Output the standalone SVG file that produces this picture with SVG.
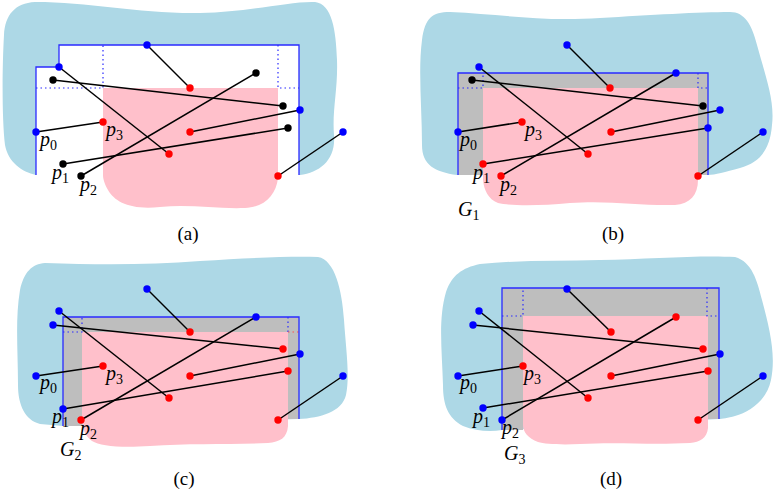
<svg xmlns="http://www.w3.org/2000/svg" width="777" height="491" viewBox="0 0 777 491">
<style>
.blob{fill:#add8e6;stroke:none}
.hole{fill:#ffffff;stroke:none}
.gray{fill:#bebebe;stroke:none}
.pink{fill:#ffc0cb;stroke:none}
.bnd{fill:none;stroke:#2a2aff;stroke-width:1.3}
.dot{fill:none;stroke:#2a2aff;stroke-width:1.2;stroke-dasharray:1.5 3}
.rdot{fill:none;stroke:#ff5050;stroke-width:1.2;stroke-dasharray:1.5 3}
.seg{stroke:#000;stroke-width:1.5;fill:none}
.B{fill:#0000ff}.R{fill:#ff0000}.K{fill:#000}
.lab{font-family:"Liberation Serif","DejaVu Serif",serif;font-style:italic;font-size:20px;fill:#000}
.sub{font-size:14px;font-style:normal}
.cap{font-family:"Liberation Serif","DejaVu Serif",serif;font-size:19px;fill:#000;text-anchor:middle}
</style>

<!-- Panel (a) -->
<g id="panel-a">
<path class="blob" d="M36,175 C22,172 8,162 5,145 C2,120 2,70 4,35 C5,15 15,3 35,2 C90,2 140,14 200,13 C250,12 290,1 315,2 C332,4 336,30 337,60 C338,90 332,110 334,135 C336,160 320,172 300,175 Z"/>
<polygon class="hole" points="36,175 36,67 59,67 59,45 299,45 299,175"/>
<path class="pink" d="M103,88 L278,88 L278,178 C276,195 265,207 245,208 C215,209 190,204 160,207 C130,210 115,202 108,190 C104,183 103,178 103,175 Z"/>
<path class="dot" d="M36,88 H103 V45 M278,45 V88 H299"/>
<polyline class="bnd" points="36,175 36,67 59,67 59,45 299,45 299,175"/>
</g>

<!-- Panel (b) -->
<g id="panel-b">
<path class="blob" d="M457,175 C435,172 422,165 422,145 C422,110 418,70 422,40 C425,18 432,12 450,12 C500,14 540,22 600,18 C650,15 700,12 730,12 C745,12 752,25 757,45 C765,75 775,100 772,125 C770,150 760,162 740,168 C725,172 715,175 708,175 Z"/>
<rect class="gray" x="458" y="73" width="250" height="102"/>
<path class="pink" d="M483,88 L698,88 L698,180 C698,195 690,204 675,205 C640,206 610,200 570,203 C540,206 510,206 498,203 C488,199 484,190 483,180 Z"/>
<path class="dot" d="M458,88 H483 V73 M698,73 V88 H708"/>
<polyline class="bnd" points="458,175 458,73 708,73 708,175"/>
</g>

<!-- Panel (c) -->
<g id="panel-c">
<path class="blob" d="M63,426 L40,424 C25,420 18,405 18,385 C18,350 15,320 20,290 C24,272 32,264 45,263 C100,265 150,265 200,261 C250,258 290,256 318,257 C335,260 342,290 344,320 C346,350 350,375 346,395 C342,412 320,418 299,419 Z"/>
<polygon class="gray" points="63,317 299,317 299,419 82,419 82,426 63,426"/>
<path class="pink" d="M82,332 L288,332 L288,426 C287,438 280,442 268,443 C230,445 190,443 150,446 C120,448 100,446 92,441 C85,436 82,428 82,418 Z"/>
<path class="dot" d="M63,332 H82 V317 M288,317 V332"/>
<path class="rdot" d="M288,332 H299"/>
<polyline class="bnd" points="63,426 63,317 299,317 299,419"/>
</g>

<!-- Panel (d) -->
<g id="panel-d">
<path class="blob" d="M502,430 C490,432 475,431 463,426 C448,418 443,405 443,385 C442,350 438,320 446,292 C452,275 462,268 480,264 C520,260 560,261 600,260 C650,259 700,255 735,257 C752,262 757,280 762,300 C770,330 776,355 771,380 C767,400 750,412 735,416 C728,418 722,419 719,419 Z"/>
<polygon class="gray" points="502,288 719,288 719,419 523,419 523,430 502,430"/>
<path class="pink" d="M523,316 L708,316 L708,428 C707,438 700,442 690,443 C650,445 620,442 580,444 C560,445 545,444 538,442 C528,438 523,432 523,425 Z"/>
<path class="dot" d="M502,316 H523 V288 M707,288 V316 H719"/>
<polyline class="bnd" points="502,430 502,288 719,288 719,419"/>
</g>

<g id="connectors">
<!-- a -->
<line class="seg" x1="147" y1="45" x2="190" y2="88"/>
<line class="seg" x1="59" y1="67" x2="169" y2="154"/>
<line class="seg" x1="53" y1="80" x2="283" y2="106"/>
<line class="seg" x1="256" y1="73" x2="81" y2="176"/>
<line class="seg" x1="300" y1="110" x2="190" y2="132"/>
<line class="seg" x1="288" y1="128" x2="63" y2="164"/>
<line class="seg" x1="36" y1="132" x2="103" y2="122"/>
<line class="seg" x1="343" y1="132" x2="278" y2="176"/>
<!-- b -->
<line class="seg" x1="567" y1="45" x2="610" y2="88"/>
<line class="seg" x1="479" y1="67" x2="588" y2="154"/>
<line class="seg" x1="472" y1="80" x2="703" y2="106"/>
<line class="seg" x1="676" y1="73" x2="501" y2="176"/>
<line class="seg" x1="720" y1="110" x2="611" y2="132"/>
<line class="seg" x1="708" y1="128" x2="483" y2="164"/>
<line class="seg" x1="458" y1="132" x2="522" y2="122"/>
<line class="seg" x1="763" y1="132" x2="698" y2="176"/>
<!-- c -->
<line class="seg" x1="147" y1="289" x2="190" y2="332"/>
<line class="seg" x1="59" y1="311" x2="169" y2="398"/>
<line class="seg" x1="53" y1="325" x2="283" y2="349"/>
<line class="seg" x1="256" y1="317" x2="81" y2="420"/>
<line class="seg" x1="300" y1="354" x2="190" y2="376"/>
<line class="seg" x1="288" y1="371" x2="63" y2="409"/>
<line class="seg" x1="36" y1="376" x2="103" y2="366"/>
<line class="seg" x1="343" y1="376" x2="278" y2="420"/>
<!-- d -->
<line class="seg" x1="567" y1="289" x2="611" y2="332"/>
<line class="seg" x1="479" y1="311" x2="588" y2="398"/>
<line class="seg" x1="473" y1="325" x2="703" y2="349"/>
<line class="seg" x1="676" y1="317" x2="502" y2="420"/>
<line class="seg" x1="720" y1="354" x2="611" y2="376"/>
<line class="seg" x1="708" y1="371" x2="483" y2="408"/>
<line class="seg" x1="458" y1="376" x2="523" y2="366"/>
<line class="seg" x1="763" y1="376" x2="698" y2="420"/>
</g>

<g id="points">
<!-- a -->
<circle class="B" cx="147" cy="45" r="3.7"/><circle class="R" cx="190" cy="88" r="3.7"/>
<circle class="B" cx="59" cy="67" r="3.7"/><circle class="R" cx="169" cy="154" r="3.7"/>
<circle class="K" cx="53" cy="80" r="3.7"/><circle class="K" cx="283" cy="106" r="3.7"/>
<circle class="K" cx="256" cy="73" r="3.7"/><circle class="K" cx="81" cy="176" r="3.7"/>
<circle class="B" cx="300" cy="110" r="3.7"/><circle class="R" cx="190" cy="132" r="3.7"/>
<circle class="K" cx="288" cy="128" r="3.7"/><circle class="K" cx="63" cy="164" r="3.7"/>
<circle class="B" cx="36" cy="132" r="3.7"/><circle class="R" cx="103" cy="122" r="3.7"/>
<circle class="B" cx="343" cy="132" r="3.7"/><circle class="R" cx="278" cy="176" r="3.7"/>
<!-- b -->
<circle class="B" cx="567" cy="45" r="3.7"/><circle class="R" cx="610" cy="88" r="3.7"/>
<circle class="B" cx="479" cy="67" r="3.7"/><circle class="R" cx="588" cy="154" r="3.7"/>
<circle class="K" cx="472" cy="80" r="3.7"/><circle class="K" cx="703" cy="106" r="3.7"/>
<circle class="B" cx="676" cy="73" r="3.7"/><circle class="R" cx="501" cy="176" r="3.7"/>
<circle class="B" cx="720" cy="110" r="3.7"/><circle class="R" cx="611" cy="132" r="3.7"/>
<circle class="B" cx="708" cy="128" r="3.7"/><circle class="R" cx="483" cy="164" r="3.7"/>
<circle class="B" cx="458" cy="132" r="3.7"/><circle class="R" cx="522" cy="122" r="3.7"/>
<circle class="B" cx="763" cy="132" r="3.7"/><circle class="R" cx="698" cy="176" r="3.7"/>
<!-- c -->
<circle class="B" cx="147" cy="289" r="3.7"/><circle class="R" cx="190" cy="332" r="3.7"/>
<circle class="B" cx="59" cy="311" r="3.7"/><circle class="R" cx="169" cy="398" r="3.7"/>
<circle class="B" cx="53" cy="325" r="3.7"/><circle class="R" cx="283" cy="349" r="3.7"/>
<circle class="B" cx="256" cy="317" r="3.7"/><circle class="R" cx="81" cy="420" r="3.7"/>
<circle class="B" cx="300" cy="354" r="3.7"/><circle class="R" cx="190" cy="376" r="3.7"/>
<circle class="R" cx="288" cy="371" r="3.7"/><circle class="B" cx="63" cy="409" r="3.7"/>
<circle class="B" cx="36" cy="376" r="3.7"/><circle class="R" cx="103" cy="366" r="3.7"/>
<circle class="B" cx="343" cy="376" r="3.7"/><circle class="R" cx="278" cy="420" r="3.7"/>
<!-- d -->
<circle class="B" cx="567" cy="289" r="3.7"/><circle class="R" cx="611" cy="332" r="3.7"/>
<circle class="B" cx="479" cy="311" r="3.7"/><circle class="R" cx="588" cy="398" r="3.7"/>
<circle class="B" cx="473" cy="325" r="3.7"/><circle class="R" cx="703" cy="349" r="3.7"/>
<circle class="R" cx="676" cy="317" r="3.7"/><circle class="B" cx="502" cy="420" r="3.7"/>
<circle class="B" cx="720" cy="354" r="3.7"/><circle class="R" cx="611" cy="376" r="3.7"/>
<circle class="R" cx="708" cy="371" r="3.7"/><circle class="B" cx="483" cy="408" r="3.7"/>
<circle class="B" cx="458" cy="376" r="3.7"/><circle class="R" cx="523" cy="366" r="3.7"/>
<circle class="B" cx="763" cy="376" r="3.7"/><circle class="R" cx="698" cy="420" r="3.7"/>
</g>

<g id="labels">
<text class="lab" x="40" y="146">p<tspan class="sub" dy="4">0</tspan></text>
<text class="lab" x="106" y="136">p<tspan class="sub" dy="4">3</tspan></text>
<text class="lab" x="52" y="179">p<tspan class="sub" dy="4">1</tspan></text>
<text class="lab" x="80" y="191">p<tspan class="sub" dy="4">2</tspan></text>

<text class="lab" x="460" y="146">p<tspan class="sub" dy="4">0</tspan></text>
<text class="lab" x="525" y="136">p<tspan class="sub" dy="4">3</tspan></text>
<text class="lab" x="473" y="179">p<tspan class="sub" dy="4">1</tspan></text>
<text class="lab" x="500" y="191">p<tspan class="sub" dy="4">2</tspan></text>
<text class="lab" x="458" y="216">G<tspan class="sub" dy="4">1</tspan></text>

<text class="lab" x="40" y="389">p<tspan class="sub" dy="4">0</tspan></text>
<text class="lab" x="106" y="380">p<tspan class="sub" dy="4">3</tspan></text>
<text class="lab" x="52" y="423">p<tspan class="sub" dy="4">1</tspan></text>
<text class="lab" x="80" y="435">p<tspan class="sub" dy="4">2</tspan></text>
<text class="lab" x="60" y="456">G<tspan class="sub" dy="4">2</tspan></text>

<text class="lab" x="460" y="389">p<tspan class="sub" dy="4">0</tspan></text>
<text class="lab" x="524" y="380">p<tspan class="sub" dy="4">3</tspan></text>
<text class="lab" x="473" y="423">p<tspan class="sub" dy="4">1</tspan></text>
<text class="lab" x="502" y="434">p<tspan class="sub" dy="4">2</tspan></text>
<text class="lab" x="504" y="460">G<tspan class="sub" dy="4">3</tspan></text>

<text class="cap" x="188" y="240">(a)</text>
<text class="cap" x="613" y="240">(b)</text>
<text class="cap" x="184" y="485">(c)</text>
<text class="cap" x="611" y="485">(d)</text>
</g>
</svg>
